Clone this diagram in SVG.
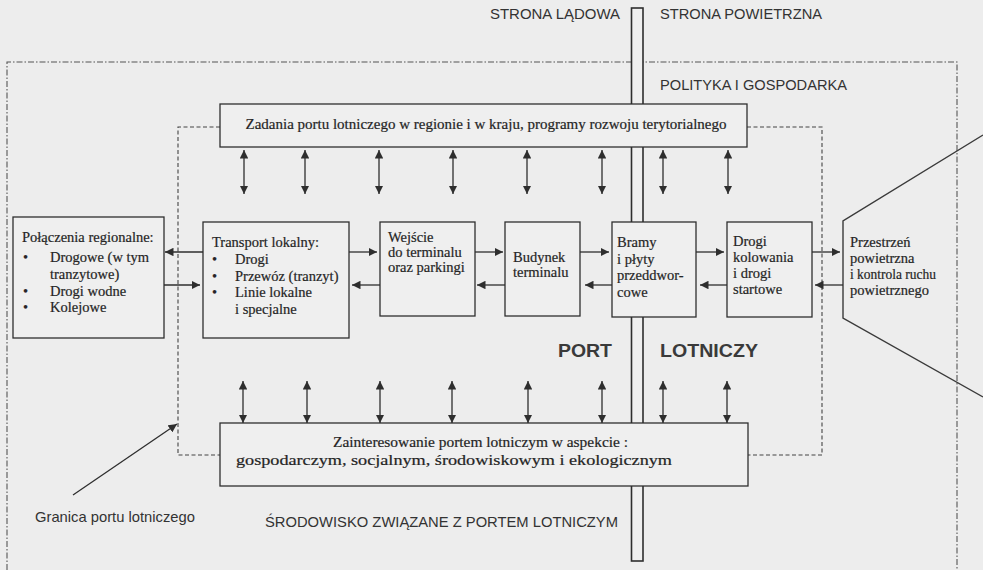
<svg xmlns="http://www.w3.org/2000/svg" width="983" height="570" viewBox="0 0 983 570">
  <defs>
    <marker id="head" viewBox="0 0 10 10" refX="10" refY="5" markerWidth="8.5" markerHeight="8.5" markerUnits="userSpaceOnUse" orient="auto-start-reverse">
      <path d="M0,0 L10,5 L0,10 Z" fill="#2e2e2e"/>
    </marker>
    <style>
      .box { fill: #efefef; stroke: #2e2e2e; stroke-width: 1.3; }
      .bar { fill: #efefef; stroke: #2e2e2e; stroke-width: 1.6; }
      .outer { fill: none; stroke: #555; stroke-width: 1.1; stroke-dasharray: 6 2 1.5 2; }
      .inner { fill: none; stroke: #444; stroke-width: 1.1; stroke-dasharray: 4 2.5; }
      .conn line { stroke: #2e2e2e; stroke-width: 1.3; }
      .h { marker-end: url(#head); }
      .v { marker-start: url(#head); marker-end: url(#head); }
      .edge { fill: none; stroke: #3a3a3a; stroke-width: 1.4; }
      .serif { font-family: "Liberation Serif", "Times New Roman", serif; font-size: 14.5px; fill: #252525; stroke: #252525; stroke-width: 0.2; }
      .sans { font-family: "Liberation Sans", Arial, sans-serif; font-size: 14.5px; fill: #333; }
      .big { font-family: "Liberation Sans", Arial, sans-serif; font-size: 19px; font-weight: bold; fill: #3a3a3a; }
    </style>
  </defs>

  <!-- page -->
  <rect x="0" y="0" width="983" height="570" fill="#ededed"/>

  <!-- environment boundary (dash-dot) -->
  <g id="environment-boundary">
    <polyline class="outer" points="7,570 7,62 957,62 957,570"/>
  </g>

  <!-- airport boundary (dashed) -->
  <g id="airport-boundary">
    <polyline class="inner" points="220,127 178,127 178,455 220,455"/>
    <polyline class="inner" points="747,127 822,127 822,455 748,455"/>
  </g>

  <!-- landside / airside divide -->
  <g id="divide">
    <rect class="bar" x="631.5" y="8" width="11.5" height="553"/>
  </g>

  <!-- side labels -->
  <g id="side-labels">
    <text class="sans" x="490" y="19" textLength="130" lengthAdjust="spacingAndGlyphs">STRONA LĄDOWA</text>
    <text class="sans" x="660" y="19" textLength="162" lengthAdjust="spacingAndGlyphs">STRONA POWIETRZNA</text>
    <text class="sans" x="660" y="90" textLength="187" lengthAdjust="spacingAndGlyphs">POLITYKA I GOSPODARKA</text>
    <text class="sans" x="265" y="527" textLength="353" lengthAdjust="spacingAndGlyphs">ŚRODOWISKO ZWIĄZANE Z PORTEM LOTNICZYM</text>
  </g>

  <g id="port-label">
    <text class="big" x="558" y="357" textLength="54" lengthAdjust="spacingAndGlyphs">PORT</text>
    <text class="big" x="660" y="357" textLength="98" lengthAdjust="spacingAndGlyphs">LOTNICZY</text>
  </g>

  <!-- policy box -->
  <g id="node-zadania">
    <rect class="box" x="220" y="104" width="527" height="43"/>
    <text class="serif" x="486" y="129" text-anchor="middle" textLength="481" lengthAdjust="spacingAndGlyphs">Zadania portu lotniczego w regionie i w kraju, programy rozwoju terytorialnego</text>
  </g>

  <!-- environment interest box -->
  <g id="node-zainteresowanie">
    <rect class="box" x="220" y="423" width="528" height="63"/>
    <text class="serif" x="333" y="447" textLength="295" lengthAdjust="spacingAndGlyphs">Zainteresowanie portem lotniczym w aspekcie :</text>
    <text class="serif" x="236" y="465" textLength="436" lengthAdjust="spacingAndGlyphs">gospodarczym, socjalnym, środowiskowym i ekologicznym</text>
  </g>

  <g id="node-polaczenia">
    <rect class="box" x="13" y="217" width="151" height="121"/>
    <text class="serif" x="22" y="242">Połączenia regionalne:</text>
    <text class="serif" x="23" y="262">•</text><text class="serif" x="50" y="262">Drogowe (w tym</text>
    <text class="serif" x="50" y="279">tranzytowe)</text>
    <text class="serif" x="23" y="296">•</text><text class="serif" x="50" y="296">Drogi wodne</text>
    <text class="serif" x="23" y="312">•</text><text class="serif" x="50" y="312">Kolejowe</text>
  </g>

  <g id="node-transport">
    <rect class="box" x="203" y="222" width="146" height="116"/>
    <text class="serif" x="212" y="247">Transport lokalny:</text>
    <text class="serif" x="212" y="264">•</text><text class="serif" x="235" y="264">Drogi</text>
    <text class="serif" x="212" y="281">•</text><text class="serif" x="235" y="281">Przewóz (tranzyt)</text>
    <text class="serif" x="212" y="297">•</text><text class="serif" x="235" y="297">Linie lokalne</text>
    <text class="serif" x="235" y="314">i specjalne</text>
  </g>

  <g id="node-wejscie">
    <rect class="box" x="380" y="222" width="95" height="94"/>
    <text class="serif" x="388" y="242">Wejście</text>
    <text class="serif" x="388" y="257">do terminalu</text>
    <text class="serif" x="388" y="272">oraz parkingi</text>
  </g>

  <g id="node-budynek">
    <rect class="box" x="505" y="222" width="75" height="94"/>
    <text class="serif" x="513" y="262">Budynek</text>
    <text class="serif" x="513" y="277">terminalu</text>
  </g>

  <g id="node-bramy">
    <rect class="box" x="612" y="222" width="84" height="95"/>
    <text class="serif" x="617" y="247">Bramy</text>
    <text class="serif" x="617" y="264">i płyty</text>
    <text class="serif" x="617" y="280">przeddwor-</text>
    <text class="serif" x="617" y="297">cowe</text>
  </g>

  <g id="node-drogi-kolowania">
    <rect class="box" x="727" y="222" width="85" height="95"/>
    <text class="serif" x="733" y="246">Drogi</text>
    <text class="serif" x="733" y="262">kolowania</text>
    <text class="serif" x="733" y="278">i drogi</text>
    <text class="serif" x="733" y="294">startowe</text>
  </g>

  <g id="node-przestrzen">
    <polyline class="edge" points="983,135 843,221 843,318 983,397"/>
    <text class="serif" x="850" y="247">Przestrzeń</text>
    <text class="serif" x="850" y="263">powietrzna</text>
    <text class="serif" x="850" y="279" textLength="86" lengthAdjust="spacingAndGlyphs">i kontrola ruchu</text>
    <text class="serif" x="850" y="295">powietrznego</text>
  </g>

  <!-- connectors -->
  <g id="connectors" class="conn">
    <!-- chain of flows: upper line and lower line between neighbours -->
    <line class="h" x1="203" y1="252" x2="165" y2="252"/>
    <line class="h" x1="164" y1="285" x2="200" y2="285"/>
    <line class="h" x1="349" y1="252" x2="377" y2="252"/>
    <line class="h" x1="380" y1="285" x2="352" y2="285"/>
    <line class="h" x1="475" y1="252" x2="503" y2="252"/>
    <line class="h" x1="505" y1="285" x2="477" y2="285"/>
    <line class="h" x1="580" y1="252" x2="609" y2="252"/>
    <line class="h" x1="612" y1="285" x2="585" y2="285"/>
    <line class="h" x1="696" y1="252" x2="724" y2="252"/>
    <line class="h" x1="727" y1="285" x2="700" y2="285"/>
    <line class="h" x1="812" y1="252" x2="840" y2="252"/>
    <line class="h" x1="843" y1="285" x2="815" y2="285"/>

    <!-- links to the policy box -->
    <line class="v" x1="244" y1="150" x2="244" y2="194"/>
    <line class="v" x1="305" y1="150" x2="305" y2="194"/>
    <line class="v" x1="379" y1="150" x2="379" y2="194"/>
    <line class="v" x1="453" y1="150" x2="453" y2="194"/>
    <line class="v" x1="527" y1="150" x2="527" y2="194"/>
    <line class="v" x1="602" y1="150" x2="602" y2="194"/>
    <line class="v" x1="663" y1="150" x2="663" y2="194"/>
    <line class="v" x1="728" y1="150" x2="728" y2="194"/>

    <!-- links to the environment box -->
    <line class="v" x1="243" y1="381" x2="243" y2="423"/>
    <line class="v" x1="307" y1="381" x2="307" y2="423"/>
    <line class="v" x1="380" y1="381" x2="380" y2="423"/>
    <line class="v" x1="452" y1="381" x2="452" y2="423"/>
    <line class="v" x1="528" y1="381" x2="528" y2="423"/>
    <line class="v" x1="602" y1="381" x2="602" y2="423"/>
    <line class="v" x1="663" y1="381" x2="663" y2="423"/>
    <line class="v" x1="727" y1="381" x2="727" y2="423"/>

    <!-- pointer to the airport boundary -->
    <line class="h" x1="73" y1="495" x2="177" y2="424"/>
  </g>

  <g id="label-granica">
    <text class="sans" x="35" y="522" textLength="160" lengthAdjust="spacingAndGlyphs">Granica portu lotniczego</text>
  </g>
</svg>
